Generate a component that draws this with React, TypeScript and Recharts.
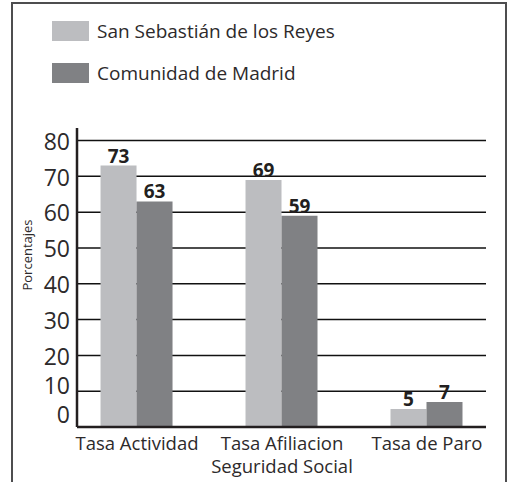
import { BarChart, Bar, XAxis, YAxis, CartesianGrid, LabelList } from "recharts";

const categories = ["Tasa Actividad", "Tasa Afiliacion\nSeguridad Social", "Tasa de Paro"];
const sanSebastian = [73, 69, 5];
const madrid = [63, 59, 7];
const yTicks = [0, 10, 20, 30, 40, 50, 60, 70, 80];
const seriesNames = ["San Sebastián de los Reyes", "Comunidad de Madrid"];

const LIGHT = "#bcbdc0";
const DARK = "#808184";
const INK = "#231f20";
const FONT = "'Open Sans', 'Noto Sans', sans-serif";

const data = categories.map((name, i) => ({
  idx: i,
  name,
  ss: sanSebastian[i],
  cm: madrid[i],
}));

const XTick = (props: any) => {
  const { x, y, payload } = props;
  const lines = categories[payload.value].split("\n");
  return (
    <text x={x} y={y + 15} textAnchor="middle" fontSize={18.5} fill="#2d2a2b" fontFamily={FONT}>
      {lines.map((l, i) => (
        <tspan key={i} x={x} dy={i === 0 ? 0 : 23}>
          {l}
        </tspan>
      ))}
    </text>
  );
};

// the lowest two labels sit a bit above their lines in the original
const YTick = (props: any) => {
  const { y, payload } = props;
  const v = payload.value;
  const shift = v === 0 ? -12 : v === 10 ? -5 : 1;
  return (
    <text x={70} y={y + shift} dy="0.36em" textAnchor="end" fontSize={23} fill="#2d2a2b" fontFamily={FONT}>
      {v}
    </text>
  );
};

const AxisTitle = () => (
  <text
    x={27}
    y={255}
    transform="rotate(-90 27 255)"
    textAnchor="middle"
    dominantBaseline="central"
    fontSize={13}
    fill="#2d2a2b"
    fontFamily={FONT}
  >
    Porcentajes
  </text>
);

const LegendRow = ({ color, label, top }: { color: string; label: string; top: number }) => (
  <div style={{ position: "absolute", left: 52, top, display: "flex", alignItems: "center" }}>
    <div style={{ width: 37, height: 20, background: color }} />
    <span style={{ marginLeft: 8, fontSize: 19, color: "#2d2a2b", fontFamily: FONT }}>{label}</span>
  </div>
);

const App = () => {
  return (
    <div style={{ position: "absolute", left: 0, top: 0, width: 509, height: 482, background: "#fff", overflow: "hidden" }}>
      <div
        style={{
          position: "absolute",
          left: 11,
          top: 2,
          width: 492,
          height: 500,
          border: "2px solid #4d4d4f",
          borderBottom: "none",
        }}
      />
      <LegendRow color={LIGHT} label={seriesNames[0]} top={18} />
      <LegendRow color={DARK} label={seriesNames[1]} top={60} />
      <div style={{ position: "absolute", left: 0, top: 0 }}>
        <BarChart
          width={509}
          height={482}
          data={data}
          margin={{ top: 128, right: 23, bottom: 0, left: 0 }}
          barGap={0}
        >
          <CartesianGrid
            vertical={false}
            horizontalValues={yTicks}
            stroke="#111"
            strokeWidth={1.5}
          />
          <XAxis
            type="number"
            dataKey="idx"
            domain={[-0.414, 2.407]}
            allowDataOverflow
            ticks={[0, 1, 2]}
            interval={0}
            height={55}
            tickLine={false}
            axisLine={{ stroke: INK, strokeWidth: 2.5 }}
            tick={<XTick />}
          />
          <YAxis
            type="number"
            domain={[0, 83.5]}
            ticks={yTicks}
            interval={0}
            width={77}
            tickLine={false}
            axisLine={{ stroke: INK, strokeWidth: 2.5 }}
            tick={<YTick />}
            label={<AxisTitle />}
          />
          <Bar dataKey="ss" name={seriesNames[0]} fill={LIGHT} barSize={36} isAnimationActive={false}>
            <LabelList dataKey="ss" position="top" offset={3} fill={INK} fontSize={19} fontWeight={700} fontFamily={FONT} />
          </Bar>
          <Bar dataKey="cm" name={seriesNames[1]} fill={DARK} barSize={36} isAnimationActive={false}>
            <LabelList dataKey="cm" position="top" offset={3} fill={INK} fontSize={19} fontWeight={700} fontFamily={FONT} />
          </Bar>
        </BarChart>
      </div>
    </div>
  );
};

export default App;
